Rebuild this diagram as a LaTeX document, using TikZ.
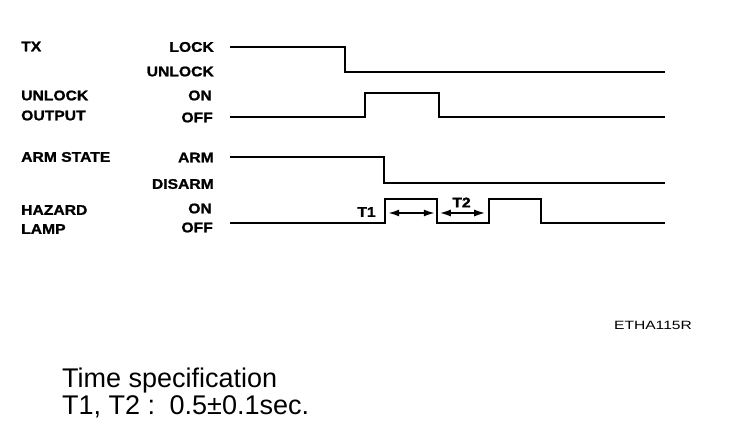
\documentclass[tikz,border=0pt]{standalone}
\usepackage{fontspec}
\setmainfont{Liberation Sans}
\newfontfamily\lblfont[FakeStretch=1.12,FakeBold=1.2]{Liberation Sans Bold}
\newfontfamily\codefont[FakeStretch=1.3]{Liberation Sans}
\usetikzlibrary{arrows.meta}

\begin{document}
\begin{tikzpicture}[x=1pt,y=-1pt,
  sig/.style={line width=2pt,line join=miter},
  signame/.style={anchor=west,inner sep=0pt,font=\lblfont\fontsize{14}{16}\selectfont},
  lvl/.style={anchor=east,inner sep=0pt,font=\lblfont\fontsize{14}{16}\selectfont},
  tarr/.style={{Latex[length=11pt,width=7pt]}-{Latex[length=11pt,width=7pt]},
    line width=1.6pt,shorten <=2.5pt,shorten >=2.5pt},
  spec/.style={anchor=base west,inner sep=0pt,font=\fontsize{27}{30}\selectfont}]
\useasboundingbox (0,0) rectangle (752,438);
% signal names
\node[signame] (tx) at (21,46.5) {TX};
\node[signame] (unl) at (21,95.5) {UNLOCK};
\node[signame] (outp) at (21,115.5) {OUTPUT};
\node[signame] (arm) at (21,157) {ARM STATE};
\node[signame] (haz) at (21,210) {HAZARD};
\node[signame] (lamp) at (21,229) {LAMP};
% levels
\node[lvl] (lock) at (214,47) {LOCK};
\node[lvl] (unlock) at (214,71.5) {UNLOCK};
\node[lvl] (uon) at (212,95.5) {ON};
\node[lvl] (uoff) at (213,117.5) {OFF};
\node[lvl] (armh) at (214,157.5) {ARM};
\node[lvl] (disarm) at (214,184) {DISARM};
\node[lvl] (hon) at (212,208.5) {ON};
\node[lvl] (hoff) at (213,227.5) {OFF};
% waveforms
\draw[sig] (230,46.7) -- (345,46.7) -- (345,71.7) -- (665,71.7);
\draw[sig] (230,116.7) -- (364.7,116.7) -- (364.7,92.7) -- (438.7,92.7)
  -- (438.7,116.7) -- (665,116.7);
\draw[sig] (230,157.3) -- (383.7,157.3) -- (383.7,182.7) -- (665,182.7);
\draw[sig] (230,222.7) -- (384.7,222.7) |- (437.3,199.3) |- (488.7,222.7)
  |- (541,199.3) |- (665,222.7);
% timing
\coordinate (t1a) at (385.7,213);
\coordinate (t1b) at (437.3,213);
\coordinate (t2b) at (487.7,213);
\draw[tarr] (t1a) -- (t1b);
\draw[tarr] (t1b) -- (t2b);
\node[lvl,anchor=center] (t1) at (366.5,212) {T1};
\node[lvl,anchor=center] (t2) at (461.5,202.5) {T2};
\node[inner sep=0pt,font=\codefont\fontsize{12}{14}\selectfont] (code) at (653,325) {ETHA115R};
\node[spec] (spectitle) at (62,387) {Time specification};
\node[spec] (specval) at (62,414) {T1, T2 : \,0.5±0.1sec.};
\end{tikzpicture}
\end{document}
